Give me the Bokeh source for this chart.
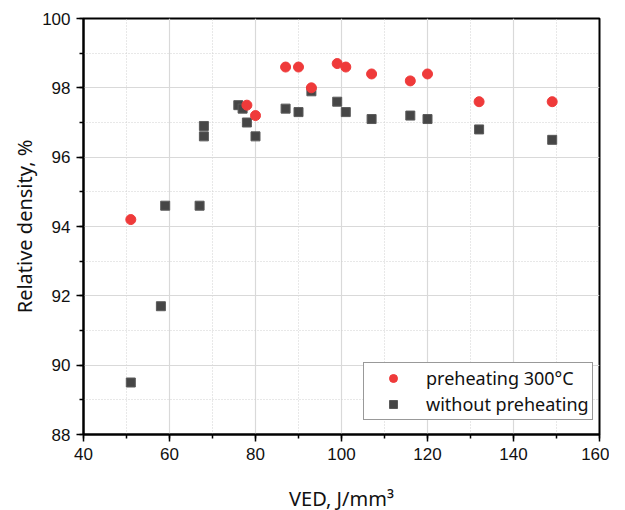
from bokeh.plotting import figure
from bokeh.models import SingleIntervalTicker, Legend, LegendItem, Range1d
from bokeh.embed import file_html
from bokeh.resources import INLINE

# Data
ved_pre = [51, 78, 80, 87, 90, 93, 99, 101, 107, 116, 120, 132, 149]
dens_pre = [94.2, 97.5, 97.2, 98.6, 98.6, 98.0, 98.7, 98.6, 98.4, 98.2, 98.4, 97.6, 97.6]

ved_no = [51, 58, 59, 67, 68, 68, 76, 77, 78, 80, 87, 90, 93, 99, 101, 107, 116, 120, 132, 149]
dens_no = [89.5, 91.7, 94.6, 94.6, 96.9, 96.6, 97.5, 97.4, 97.0, 96.6, 97.4, 97.3, 97.9,
           97.6, 97.3, 97.1, 97.2, 97.1, 96.8, 96.5]

label_pre = "preheating 300°C"
label_no = "without preheating"
x_label = "VED, J/mm³"
y_label = "Relative density, %"

RED = "#EF3A3A"
GRAY = "#464646"

p = figure(frame_width=516, frame_height=416,
           min_border_left=83, min_border_top=18, min_border_right=10, min_border_bottom=70,
           x_range=Range1d(40, 160), y_range=Range1d(88, 100),
           output_backend="svg", toolbar_location=None)

r_no = p.scatter(ved_no, dens_no, marker="square", size=9, fill_color=GRAY,
                 line_color="#5a5a5a", line_width=1)
r_pre = p.scatter(ved_pre, dens_pre, marker="circle", size=10, fill_color=RED,
                  line_color=RED, line_width=1)

p.xaxis.ticker = SingleIntervalTicker(interval=20, num_minor_ticks=2)
p.yaxis.ticker = SingleIntervalTicker(interval=2, num_minor_ticks=2)

for ax in (p.xaxis, p.yaxis):
    ax.axis_line_width = 2
    ax.axis_line_color = "black"
    ax.major_tick_line_width = 1.5
    ax.minor_tick_line_width = 1.5
    ax.major_tick_line_color = "black"
    ax.minor_tick_line_color = "black"
    ax.major_tick_in = 0
    ax.major_tick_out = 7
    ax.minor_tick_in = 0
    ax.minor_tick_out = 4
    ax.major_label_text_font = "Liberation Sans"
    ax.major_label_text_font_size = "17px"
    ax.major_label_text_color = "#111111"
    ax.axis_label_text_font = "Noto Sans"
    ax.axis_label_text_font_style = "normal"
    ax.axis_label_text_font_size = "20px"
    ax.axis_label_text_color = "#111111"

p.xaxis.axis_label = x_label
p.yaxis.axis_label = y_label
p.xaxis.major_label_standoff = 6
p.yaxis.major_label_standoff = 6
p.xaxis.axis_label_standoff = 22
p.yaxis.axis_label_standoff = 1

p.xgrid.grid_line_color = "#d9d9d9"
p.ygrid.grid_line_color = "#d9d9d9"
p.xgrid.grid_line_width = 1.2
p.ygrid.grid_line_width = 1.2
p.xgrid.minor_grid_line_color = "#d0d0d0"
p.ygrid.minor_grid_line_color = "#d0d0d0"
p.xgrid.minor_grid_line_dash = "1 2"
p.ygrid.minor_grid_line_dash = "1 2"

p.outline_line_color = "black"
p.outline_line_width = 2
p.outline_line_alpha = 1

legend = Legend(items=[LegendItem(label=label_pre, renderers=[r_pre]),
                       LegendItem(label=label_no, renderers=[r_no])],
                location=(280, 14))
legend.label_text_font = "Noto Sans"
legend.label_text_font_size = "18px"
legend.label_text_color = "#111111"
legend.border_line_color = "#333333"
legend.border_line_width = 1
legend.background_fill_color = "white"
legend.background_fill_alpha = 1
legend.padding = 3
legend.spacing = 2
legend.glyph_height = 20
legend.glyph_width = 52
legend.label_standoff = 7
legend.label_height = 20
legend.margin = 0
p.add_layout(legend, "center")

open("out.html", "w").write(file_html(p, INLINE))
